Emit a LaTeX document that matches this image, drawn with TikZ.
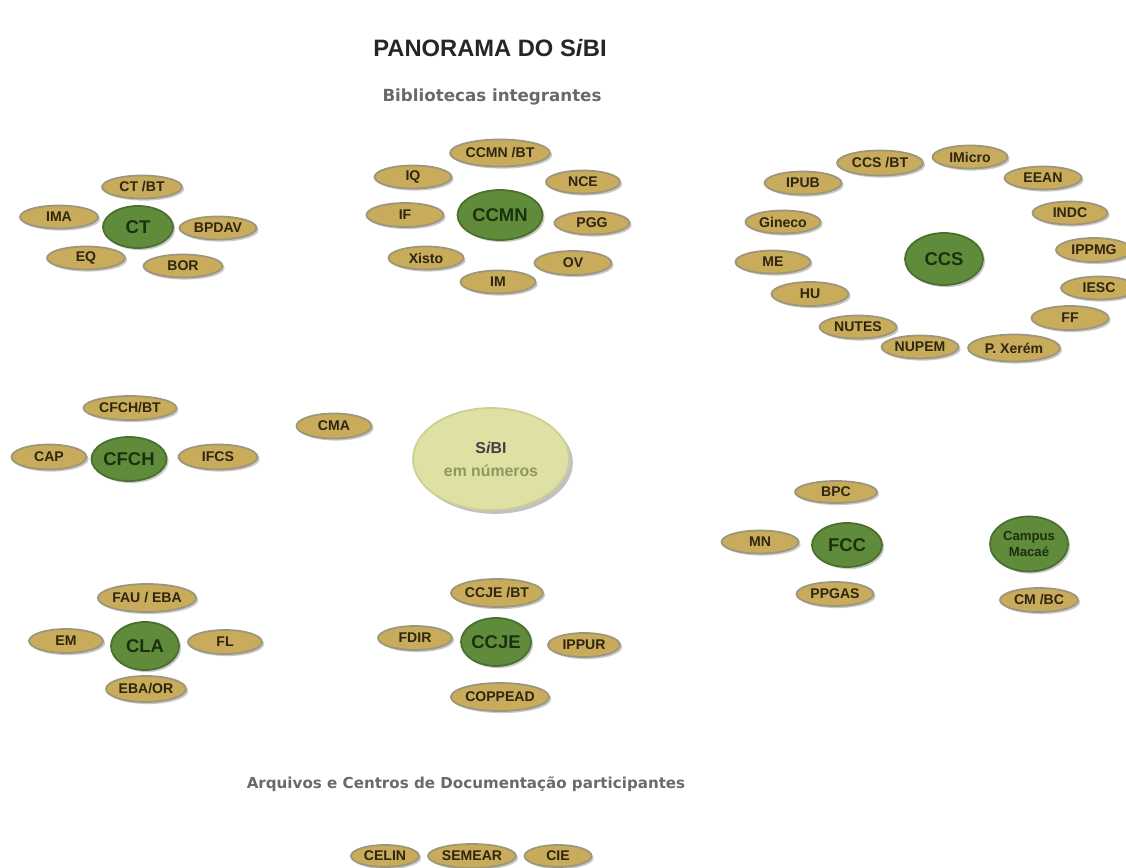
\documentclass[tikz,border=0pt]{standalone}
\usepackage{fontspec}
\setmainfont{Liberation Sans}
\newfontfamily\headfont{DejaVu Sans}
\usetikzlibrary{shapes.geometric,shadows}
\definecolor{ochre}{HTML}{C8AB5B}
\definecolor{ochreline}{HTML}{9C977C}
\definecolor{ochretext}{HTML}{2E2610}
\definecolor{leaf}{HTML}{5F8B3B}
\definecolor{leafline}{HTML}{4B6F2E}
\definecolor{leaftext}{HTML}{1C3010}
\definecolor{pale}{HTML}{DFE1A4}
\definecolor{paleline}{HTML}{CDD096}
\definecolor{greytext}{HTML}{6A6A6A}
\definecolor{numtext}{HTML}{8E9662}
\tikzset{
  sm/.style 2 args={ellipse, fill=ochre, draw=ochreline, line width=1pt,
    minimum width=#1*0.02cm, minimum height=#2*0.02cm, inner sep=0pt,
    font=\fontsize{8}{9}\selectfont\bfseries, text=ochretext,
    drop shadow={shadow xshift=1.2pt, shadow yshift=-1.2pt, opacity=0.35, fill=black!60}},
  big/.style 2 args={ellipse, fill=leaf, draw=leafline, line width=1pt,
    minimum width=#1*0.02cm, minimum height=#2*0.02cm, inner sep=0pt,
    font=\fontsize{10.5}{11}\selectfont\bfseries, text=leaftext,
    drop shadow={shadow xshift=1.2pt, shadow yshift=-1.2pt, opacity=0.35, fill=black!60}},
  heading/.style={font=\headfont\fontsize{9.5}{10}\selectfont\bfseries, text=greytext},
}
\begin{document}
\begin{tikzpicture}[x=0.02cm,y=-0.02cm]
\useasboundingbox[fill=white] (0,0) rectangle (1126,868);
% titles
\node[font=\fontsize{13.5}{14}\selectfont\bfseries, text=black!85] (title) at (490,48) {PANORAMA DO S\textit{i}BI};
\node[heading] (bib) at (492,97) {Bibliotecas integrantes};
\node[heading, font=\headfont\fontsize{8.6}{10}\selectfont\bfseries] (arq) at (466,784) {Arquivos e Centros de Documentação participantes};
% CT
\node[big={70}{42}] (ct) at (138,227) {CT};
\node[sm={80}{23}] (ctbt) at (142,187) {CT /BT};
\node[sm={78}{23}] (ima) at (59,217) {IMA};
\node[sm={77}{23}] (bpdav) at (218,228) {BPDAV};
\node[sm={78}{23}] (eq) at (86,258) {EQ};
\node[sm={79}{23}] (bor) at (183,266) {BOR};
% CCMN
\node[big={85}{50}] (ccmn) at (500,215) {CCMN};
\node[sm={100}{27}] (ccmnbt) at (500,153) {CCMN /BT};
\node[sm={77}{23}] (iq) at (413,177) {IQ};
\node[sm={74}{23}] (nce) at (583,182) {NCE};
\node[sm={77}{24}] (if) at (405,215) {IF};
\node[sm={75}{23}] (pgg) at (592,223) {PGG};
\node[sm={75}{23}] (xisto) at (426,258) {Xisto};
\node[sm={77}{24}] (ov) at (573,263) {OV};
\node[sm={75}{23}] (im) at (498,282) {IM};
% CCS
\node[big={78}{52}] (ccs) at (944,259) {CCS};
\node[sm={86}{25}] (ccsbt) at (880,163) {CCS /BT};
\node[sm={75}{23}] (imicro) at (970,157) {IMicro};
\node[sm={77}{23}] (eean) at (1043,178) {EEAN};
\node[sm={77}{23}] (ipub) at (803,183) {IPUB};
\node[sm={75}{23}] (indc) at (1070,213) {INDC};
\node[sm={75}{23}] (gineco) at (783,222) {Gineco};
\node[sm={76}{24}] (ippmg) at (1094,250) {IPPMG};
\node[sm={75}{23}] (me) at (773,262) {ME};
\node[sm={76}{23}] (iesc) at (1099,288) {IESC};
\node[sm={77}{24}] (hu) at (810,294) {HU};
\node[sm={77}{24}] (ff) at (1070,318) {FF};
\node[sm={77}{23}] (nutes) at (858,327) {NUTES};
\node[sm={77}{23}] (nupem) at (920,347) {NUPEM};
\node[sm={92}{27}] (pxerem) at (1014,348) {P. Xerém};
% CFCH
\node[big={75}{44}] (cfch) at (129,459) {CFCH};
\node[sm={93}{24}] (cfchbt) at (130,408) {CFCH/BT};
\node[sm={75}{25}] (cap) at (49,457) {CAP};
\node[sm={79}{25}] (ifcs) at (218,457) {IFCS};
\node[sm={75}{25}] (cma) at (334,426) {CMA};
% SiBI
\node[ellipse, fill=pale, draw=paleline, line width=1pt, minimum width=156*0.02cm, minimum height=102*0.02cm, inner sep=0pt, align=center,
  drop shadow={shadow xshift=2.2pt, shadow yshift=-2.2pt, opacity=0.4, fill=black!60}] (sibi) at (491,459)
  {{\fontsize{9}{11}\selectfont\bfseries\color{black!75}S\textit{i}BI}\\[1pt]{\fontsize{9}{11}\selectfont\bfseries\color{numtext}em números}};
% FCC
\node[big={70}{44}] (fcc) at (847,545) {FCC};
\node[sm={82}{22}] (bpc) at (836,492) {BPC};
\node[sm={77}{23}] (mn) at (760,542) {MN};
\node[sm={77}{24}] (ppgas) at (835,594) {PPGAS};
% Campus Macae
\node[big={78}{55}, align=center, font=\fontsize{7.5}{9}\selectfont\bfseries] (macae) at (1029,544) {Campus\\Macaé};
\node[sm={78}{24}] (cmbc) at (1039,600) {CM /BC};
% CLA
\node[big={68}{48}] (cla) at (145,646) {CLA};
\node[sm={92}{28}] (faueba) at (147,598) {FAU / EBA};
\node[sm={74}{24}] (em) at (66,641) {EM};
\node[sm={74}{24}] (fl) at (225,642) {FL};
\node[sm={80}{26}] (ebaor) at (146,689) {EBA/OR};
% CCJE
\node[big={70}{48}] (ccje) at (496,642) {CCJE};
\node[sm={92}{28}] (ccjebt) at (497,593) {CCJE /BT};
\node[sm={74}{24}] (fdir) at (415,638) {FDIR};
\node[sm={72}{24}] (ippur) at (584,645) {IPPUR};
\node[sm={92}{28}] (coppead) at (500,697) {COPPEAD};
% Arquivos
\node[sm={68}{22}] (celin) at (385,856) {CELIN};
\node[sm={88}{24}] (semear) at (472,856) {SEMEAR};
\node[sm={67}{22}] (cie) at (558,856) {CIE};
\end{tikzpicture}
\end{document}
